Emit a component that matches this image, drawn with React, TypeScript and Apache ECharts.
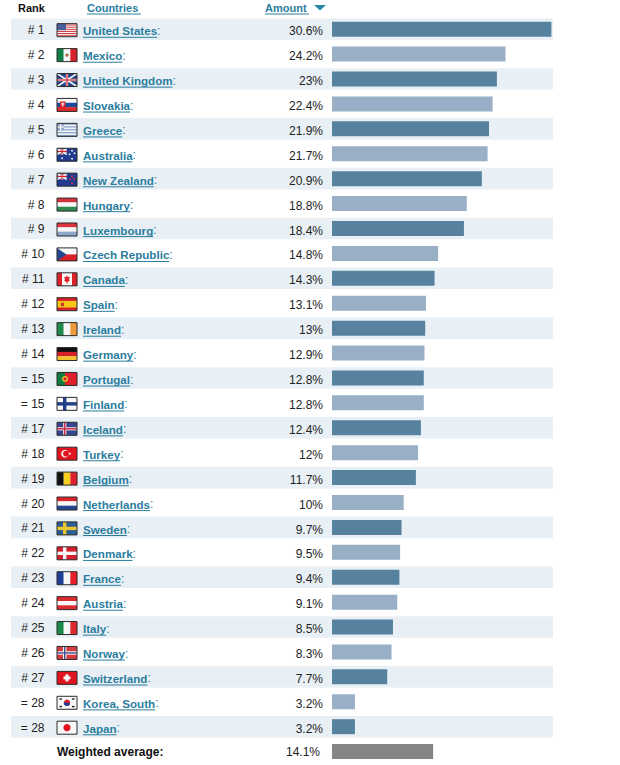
import React, { useEffect, useRef } from "react";
import * as echarts from "echarts";

const ranks = ["# 1","# 2","# 3","# 4","# 5","# 6","# 7","# 8","# 9","# 10","# 11","# 12","# 13","# 14","= 15","= 15","# 17","# 18","# 19","# 20","# 21","# 22","# 23","# 24","# 25","# 26","# 27","= 28","= 28"];
const countries = ["United States","Mexico","United Kingdom","Slovakia","Greece","Australia","New Zealand","Hungary","Luxembourg","Czech Republic","Canada","Spain","Ireland","Germany","Portugal","Finland","Iceland","Turkey","Belgium","Netherlands","Sweden","Denmark","France","Austria","Italy","Norway","Switzerland","Korea, South","Japan"];
const amounts = [30.6,24.2,23,22.4,21.9,21.7,20.9,18.8,18.4,14.8,14.3,13.1,13,12.9,12.8,12.8,12.4,12,11.7,10,9.7,9.5,9.4,9.1,8.5,8.3,7.7,3.2,3.2];
const averageLabel = ["Weighted average:"];
const averageValue = [14.1];
const headers = ["Rank","Countries","Amount"];

const DARK_BAR = "#56829f";
const LIGHT_BAR = "#98afc6";
const BAND = "#e9f0f5";
const LINK = "#2b7d9e";
const INK = "#222222";
const FONT = "'Liberation Sans', Arial, sans-serif";

const LEFT = 11, ZERO = 332, RIGHT = 553, PX = 7.17;
const xMin = -(ZERO - LEFT) / PX, xMax = (RIGHT - ZERO) / PX;

const R = "#d8202a", W = "#f7f7f7", B = "#1f3f86";
const rect = (x: number, y: number, w: number, h: number, fill: string) => ({ type: "rect", shape: { x, y, width: w, height: h }, style: { fill } });
const circ = (cx: number, cy: number, r: number, fill: string) => ({ type: "circle", shape: { cx, cy, r }, style: { fill } });
const poly = (points: number[][], fill: string) => ({ type: "polygon", shape: { points }, style: { fill } });
const hBands = (cs: string[]) => cs.map((c, i) => rect(0, (13 * i) / cs.length, 20, 13 / cs.length + 0.1, c));
const vBands = (cs: string[]) => cs.map((c, i) => rect((20 * i) / cs.length, 0, 20 / cs.length + 0.1, 13, c));
const cross = (bg: string, fg: string, inner?: string) => {
  const out = [rect(0, 0, 20, 13, bg), rect(6, 0, 3.4, 13, fg), rect(0, 4.8, 20, 3.4, fg)];
  if (inner) out.push(rect(7, 0, 1.4, 13, inner), rect(0, 5.8, 20, 1.4, inner));
  return out;
};
const union = (w: number, h: number) => [
  rect(0, 0, w, h, B),
  poly([[0, 0], [1.5, 0], [w, h - 1], [w, h], [w - 1.5, h], [0, 1]], W),
  poly([[w, 0], [w - 1.5, 0], [0, h - 1], [0, h], [1.5, h], [w, 1]], W),
  rect(w / 2 - 1.2, 0, 2.4, h, W), rect(0, h / 2 - 1.2, w, 2.4, W),
  rect(w / 2 - 0.6, 0, 1.2, h, R), rect(0, h / 2 - 0.6, w, 1.2, R),
];
const stars = (list: number[][], fill: string) => list.map(([x, y]) => circ(x, y, 0.9, fill));

const flagOf: Record<string, () => any[]> = {
  "United States": () => [...[0,1,2,3,4,5,6].flatMap((i) => [rect(0, i * 1.86, 20, 0.95, R), rect(0, i * 1.86 + 0.93, 20, 0.95, W)]), rect(0, 0, 9, 6.5, "#4a5f9c")],
  Mexico: () => [...vBands(["#0f7f45", W, "#d5232b"]), circ(10, 6.5, 1.6, "#9a6a3a")],
  "United Kingdom": () => union(20, 13),
  Slovakia: () => [...hBands([W, "#1c4a9c", "#dc2a2a"]), rect(3, 3, 5.5, 7, "#d8202a"), rect(5.2, 4, 1.2, 4, W), rect(4, 5, 3.6, 1, W)],
  Greece: () => [...[0,1,2,3,4,5,6,7,8].map((i) => rect(0, (i * 13) / 9, 20, 13 / 9 + 0.1, i % 2 ? "#f2f4f8" : "#8ea6cc")), rect(0, 0, 7, 7, "#8ea6cc"), rect(3, 0, 1.3, 7, W), rect(0, 3, 7, 1.3, W)],
  Australia: () => [rect(0, 0, 20, 13, "#1f3a8f"), ...union(10, 6.5), ...stars([[5, 10], [15, 2.5], [12.5, 6], [17.5, 5], [15, 10.5]], W)],
  "New Zealand": () => [rect(0, 0, 20, 13, "#1f3a8f"), ...union(10, 6.5), ...stars([[15, 3], [13, 6], [17, 5.5], [15, 10]], "#e0303a")],
  Hungary: () => hBands(["#d2323a", W, "#2f8a50"]),
  Luxembourg: () => hBands(["#e0343c", W, "#8fa9cc"]),
  "Czech Republic": () => [...hBands([W, "#d8202a"]), poly([[0, 0], [9.5, 6.5], [0, 13]], "#24488f")],
  Canada: () => [...vBands(["#dc2028", W, W, "#dc2028"]), poly([[10, 2.5], [11, 4.5], [12.8, 4], [12, 7], [13, 7.5], [10.4, 9.5], [10.4, 11], [9.6, 11], [9.6, 9.5], [7, 7.5], [8, 7], [7.2, 4], [9, 4.5]], "#dc2028")],
  Spain: () => [rect(0, 0, 20, 13, "#f5c518"), rect(0, 0, 20, 3.2, "#d8202a"), rect(0, 9.8, 20, 3.2, "#d8202a"), rect(4, 5, 3, 3.4, "#c0392b")],
  Ireland: () => vBands(["#1f8a4c", W, "#f09a3e"]),
  Germany: () => hBands(["#111111", "#d8202a", "#f5c02a"]),
  Portugal: () => [rect(0, 0, 20, 13, "#e0202a"), rect(0, 0, 8, 13, "#0f7a3f"), circ(8, 6.5, 3, "#e6c130"), circ(8, 6.5, 1.6, "#d8202a")],
  Finland: () => cross(W, "#1f3f86"),
  Iceland: () => cross("#32478f", "#e9c8d4", "#c8324a"),
  Turkey: () => [rect(0, 0, 20, 13, "#e1141e"), circ(8, 6.5, 3.8, W), circ(9, 6.5, 3, "#e1141e"), circ(12.8, 6.5, 1, W)],
  Belgium: () => vBands(["#111111", "#f5d020", "#e0202a"]),
  Netherlands: () => hBands(["#d8242c", W, "#24488f"]),
  Sweden: () => cross("#2a5c96", "#e8c82e"),
  Denmark: () => cross("#d4202c", W),
  France: () => vBands(["#1f3f96", W, "#e8202a"]),
  Austria: () => hBands(["#dc2a30", W, "#dc2a30"]),
  Italy: () => vBands(["#1c8a48", W, "#dc2a30"]),
  Norway: () => cross("#d53a40", W, "#3a4f90"),
  Switzerland: () => [rect(0, 0, 20, 13, "#e1141e"), rect(8.5, 3, 3, 7, W), rect(6.5, 5, 7, 3, W)],
  "Korea, South": () => [rect(0, 0, 20, 13, W), circ(10, 6.5, 3.2, "#d8202a"), { type: "sector", shape: { cx: 10, cy: 6.5, r: 3.2, r0: 0, startAngle: 0.2, endAngle: 3.3 }, style: { fill: "#1f3f96" } }, rect(2.5, 2, 2.5, 1.4, "#222"), rect(15, 2, 2.5, 1.4, "#222"), rect(2.5, 9.6, 2.5, 1.4, "#222"), rect(15, 9.6, 2.5, 1.4, "#222")],
  Japan: () => [rect(0, 0, 20, 13, W), circ(10, 6.5, 3.6, "#e1141e")],
};

const measure = (t: string, font: string) => {
  const c = document.createElement("canvas").getContext("2d")!;
  c.font = font;
  return c.measureText(t).width;
};

const text = (t: string, x: number, y: number, font: string, fill: string, align: string) => ({
  type: "text",
  style: { text: t, x, y, font, fill, textAlign: align, align, verticalAlign: "middle", textVerticalAlign: "middle" },
});

const NAME_FONT = `bold 11.6px ${FONT}`;
const BODY_FONT = `12px ${FONT}`;

function renderRow(params: any, api: any) {
  const i = params.dataIndex;
  const y = api.coord([0, i])[1];
  const ty = y + 1.6;
  const name = countries[i];
  const w = measure(name, NAME_FONT);
  return {
    type: "group",
    children: [
      text(ranks[i], 44.5, y + 1, BODY_FONT, INK, "right"),
      {
        type: "group", x: 57, y: y - 5.5,
        children: [...flagOf[name](), { type: "rect", shape: { x: 0, y: 0, width: 20, height: 13 }, style: { fill: "none", stroke: "#2a2a2a", lineWidth: 1 } }],
      },
      text(name, 83, ty, NAME_FONT, LINK, "left"),
      text(":", 83 + w, ty, BODY_FONT, LINK, "left"),
      { type: "line", shape: { x1: 83, y1: ty + 6.5, x2: 83 + w, y2: ty + 6.5 }, style: { stroke: LINK, lineWidth: 1 } },
      text(amounts[i] + "%", 323, y + 2.1, BODY_FONT, INK, "right"),
    ],
  };
}

function renderBand(params: any, api: any) {
  const i = params.dataIndex;
  if (i % 2) return { type: "group", children: [] };
  const y = api.coord([0, i])[1];
  const x0 = api.coord([xMin, i])[0], x1 = api.coord([xMax, i])[0];
  return { type: "rect", shape: { x: x0, y: y - 10.8, width: x1 - x0, height: 21.6 }, style: { fill: BAND } };
}

export default function App() {
  const ref = useRef<HTMLDivElement>(null);
  useEffect(() => {
    document.body.style.margin = "0";
    const chart = echarts.init(ref.current!, undefined, { renderer: "svg" });
    const idx = countries.map((_, i) => [0, i]);
    const hiddenX = { type: "value", min: xMin, max: xMax, show: false };
    const font11 = `bold 11px ${FONT}`;
    chart.setOption({
      animation: false,
      backgroundColor: "#ffffff",
      grid: [
        { left: LEFT, width: RIGHT - LEFT, top: 16.75, height: 722.4 },
        { left: LEFT, width: RIGHT - LEFT, top: 739.5, height: 24 },
      ],
      xAxis: [{ ...hiddenX, gridIndex: 0 }, { ...hiddenX, gridIndex: 1 }],
      yAxis: [
        { type: "category", data: countries, inverse: true, show: false, gridIndex: 0 },
        { type: "category", data: averageLabel, inverse: true, show: false, gridIndex: 1 },
      ],
      series: [
        { type: "custom", name: "bands", xAxisIndex: 0, yAxisIndex: 0, data: idx, encode: { x: 0, y: 1 }, renderItem: renderBand, silent: true, z: 1 },
        {
          type: "bar", name: "Amount", xAxisIndex: 0, yAxisIndex: 0, barWidth: 15, z: 2,
          data: amounts.map((v, i) => ({ value: v, itemStyle: { color: i % 2 ? LIGHT_BAR : DARK_BAR } })),
        },
        { type: "custom", name: "rows", xAxisIndex: 0, yAxisIndex: 0, data: idx, encode: { x: 0, y: 1 }, renderItem: renderRow, silent: true, z: 3 },
        {
          type: "bar", name: "Weighted average", xAxisIndex: 1, yAxisIndex: 1, barWidth: 15, z: 2,
          data: averageValue, itemStyle: { color: "#858585" },
          label: { show: false },
        },
      ],
      graphic: [
        { type: "text", x: 18, y: 2, style: { text: headers[0], font: font11, fill: "#111" } },
        { type: "text", x: 87, y: 2, style: { text: headers[1], font: font11, fill: LINK } },
        { type: "line", shape: { x1: 87, y1: 14, x2: 141, y2: 14 }, style: { stroke: LINK, lineWidth: 1 } },
        { type: "text", x: 265, y: 2, style: { text: headers[2], font: font11, fill: LINK } },
        { type: "line", shape: { x1: 265, y1: 14, x2: 309, y2: 14 }, style: { stroke: LINK, lineWidth: 1 } },
        { type: "polygon", shape: { points: [[314, 5], [326, 5], [320, 10.5]] }, style: { fill: "#2a8a9e" } },
        { type: "text", x: 57, y: 745.5, style: { text: averageLabel[0], font: `bold 12px ${FONT}`, fill: "#111" } },
        { type: "text", x: 320, y: 745.5, style: { text: averageValue[0] + "%", font: BODY_FONT, fill: INK, textAlign: "right", align: "right" } },
      ],
    });
    return () => chart.dispose();
  }, []);
  return <div ref={ref} style={{ width: 620, height: 765, display: "block" }} />;
}
